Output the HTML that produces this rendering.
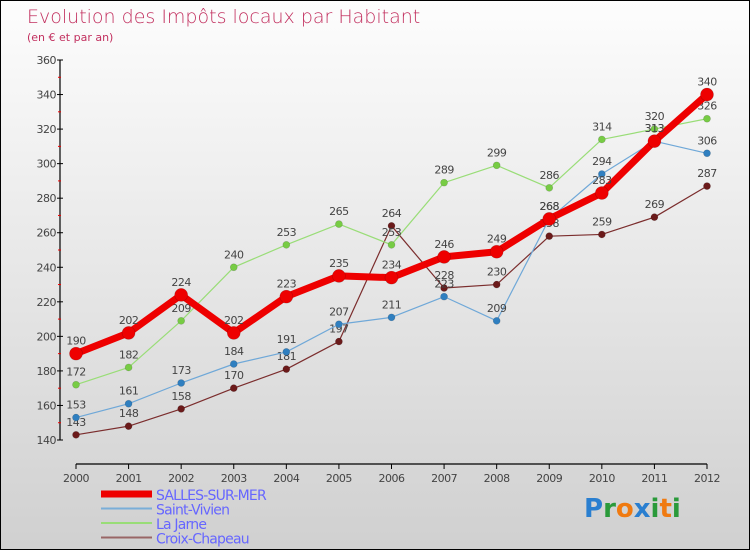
<!DOCTYPE html>
<html><head><meta charset="utf-8"><style>
body{margin:0}
#c{width:748px;height:548px;border:1px solid #000;background:linear-gradient(#fdfdfd,#d0d0d0);position:relative;font-family:"DejaVu Sans","Liberation Sans",sans-serif}
text{font-family:"DejaVu Sans","Liberation Sans",sans-serif}
</style></head><body>
<div id="c">
<svg id="s" width="748" height="548">
<text x="26" y="22" font-size="19" fill="#c2305f" font-weight="200">Evolution des Impôts locaux par Habitant</text>
<text x="26" y="40" font-size="11" fill="#c2305f">(en € et par an)</text>
</svg>
</div>
<script>
const years=[2000,2001,2002,2003,2004,2005,2006,2007,2008,2009,2010,2011,2012];
const salles=[190,202,224,202,223,235,234,246,249,268,283,313,340];
const vivien=[153,161,173,184,191,207,211,223,209,268,294,313,306];
const jarne=[172,182,209,240,253,265,253,289,299,286,314,320,326];
const croix=[143,148,158,170,181,197,264,228,230,258,259,269,287];
const yTicks=[140,160,180,200,220,240,260,280,300,320,340,360];
const NS="http://www.w3.org/2000/svg";
const s=document.getElementById('s');
const X=i=>75+i*(631/(years.length-1));
const Y=v=>439-(v-140)*380/220;
function el(t,a,p){const e=document.createElementNS(NS,t);for(const k in a)e.setAttribute(k,a[k]);(p||s).appendChild(e);return e;}
// axes
let ax=el('line',{x1:59,y1:Y(360),x2:59,y2:Y(140),stroke:'#000','stroke-width':1.2});


let xa=el('line',{x1:75,y1:463,x2:706,y2:463,stroke:'#000','stroke-width':1.2});


yTicks.forEach((v,i)=>{
 el('line',{x1:56,y1:Y(v),x2:62,y2:Y(v),stroke:'#000'});
 if(i<yTicks.length-1) el('line',{x1:57,y1:Y(v+10),x2:60,y2:Y(v+10),stroke:'#e00'});
 const t=el('text',{x:55,y:Y(v)+4,'font-size':11,fill:'#444','text-anchor':'end','letter-spacing':'-0.5'});
 t.textContent=v;
 
 
});
years.forEach((y,i)=>{
 el('line',{x1:X(i),y1:463,x2:X(i),y2:468,stroke:'#000'});
 const t=el('text',{x:X(i),y:481,'font-size':11,fill:'#444','text-anchor':'middle','letter-spacing':'-0.5'});
 t.textContent=y;
 
 
});
const series=[
 {d:croix,c:'#7b2d2d',w:1.2,r:3.5,f:'#6b1a1a',n:'croix-chapeau'},
 {d:vivien,c:'#6fa8d8',w:1.2,r:3.5,f:'#2f7fc0',n:'saint-vivien'},
 {d:jarne,c:'#99dd77',w:1.2,r:3.5,f:'#77cc44',n:'la-jarne'},
 {d:salles,c:'#ee0000',w:7,r:6.5,f:'#ee0000',n:'salles-sur-mer'}];
series.forEach(se=>{
 const p=el('polyline',{points:se.d.map((v,i)=>X(i)+','+Y(v)).join(' '),fill:'none',stroke:se.c,'stroke-width':se.w,'stroke-linejoin':'round'});
 
 
 se.d.forEach((v,i)=>{
  const c=el('circle',{cx:X(i),cy:Y(v),r:se.r,fill:se.f,stroke:'rgba(0,0,0,0.2)','stroke-width':0.6});
  
  
  const t=el('text',{x:X(i),y:Y(v)-9,'font-size':11,fill:'#444','text-anchor':'middle','letter-spacing':'-0.5'});
  t.textContent=v;
  
  
 });
});
// legend
const leg=[['SALLES-SUR-MER','#ee0000',7],['Saint-Vivien','#7aaed8',2],['La Jarne','#99dd77',2],['Croix-Chapeau','#996666',2]];
leg.forEach((l,i)=>{
 const y=493+i*14.5;
 const ln=el('line',{x1:100,y1:y,x2:151,y2:y,stroke:l[1],'stroke-width':l[2]});
 
 
 const t=el('text',{x:155,y:y+6,'font-size':14,fill:'#6666ff','letter-spacing':'-0.8'});
 t.textContent=l[0];
 
 
});
const logo=el('text',{x:583,y:516,'font-size':26,'font-weight':'bold'});


[['P','#2a7fd0'],['r','#2a9a3a'],['o','#f07a10'],['x','#2a7fd0'],['i','#2a9a3a'],['t','#f07a10'],['i','#2a9a3a']].forEach(a=>{const ts=el('tspan',{fill:a[1]},logo);ts.textContent=a[0];});
</script>
</body></html>
